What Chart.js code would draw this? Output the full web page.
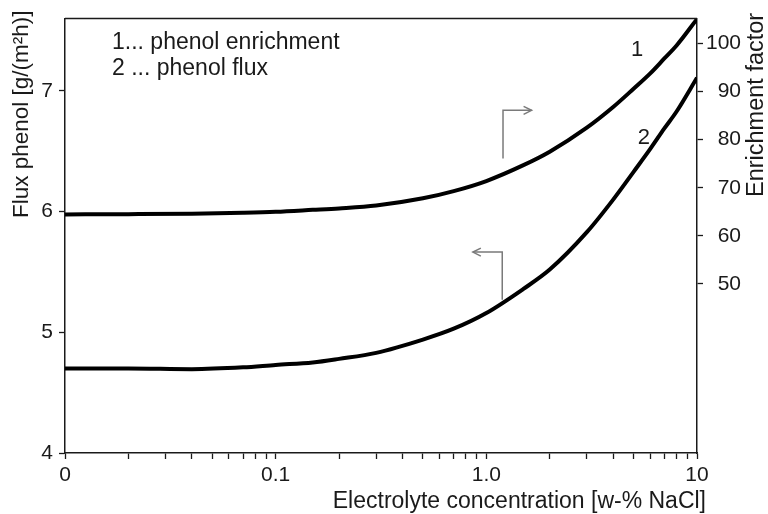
<!DOCTYPE html>
<html>
<head>
<meta charset="utf-8">
<script src="https://cdn.jsdelivr.net/npm/chart.js@4/dist/chart.umd.min.js"></script>
<style>
  html, body { margin: 0; padding: 0; background: #fff; }
  canvas { display: block; }
</style>
</head>
<body>
<canvas id="chart" width="768" height="514"></canvas>
<script>
// NaCl concentration in w-% (log axis, the left end is labelled "0")
const concValues = [0.01, 0.02, 0.04, 0.07, 0.1, 0.15, 0.2, 0.3, 0.5, 0.7, 1, 1.5, 2, 3, 4, 5, 6, 7, 8, 10];
// curve 1: phenol enrichment factor (right axis)
const enrichment = [64.45, 64.5, 64.6, 64.8, 65.0, 65.4, 65.7, 66.3, 67.8, 69.3, 71.4, 74.7, 77.5, 82.5, 86.8, 90.6, 93.8, 96.9, 99.6, 105.1];
// curve 2: phenol flux in g/(m2 h) (left axis)
const flux = [4.70, 4.70, 4.695, 4.71, 4.73, 4.75, 4.78, 4.83, 4.94, 5.03, 5.16, 5.36, 5.52, 5.83, 6.10, 6.33, 6.52, 6.69, 6.83, 7.11];

// tick positions and labels
const concTicks = [0.01, 0.02, 0.03, 0.04, 0.05, 0.06, 0.07, 0.08, 0.09,
                   0.1, 0.2, 0.3, 0.4, 0.5, 0.6, 0.7, 0.8, 0.9,
                   1, 2, 3, 4, 5, 6, 7, 8, 9, 10];
const concLabelValues = [0.01, 0.1, 1, 10];
const concLabels = ['0', '0.1', '1.0', '10'];
const fluxTicks = [4, 5, 6, 7];
const enrichTicks = [50, 60, 70, 80, 90, 100];

const FONT = '"Liberation Sans", Arial, Helvetica, sans-serif';
const INK = '#1a1a1a';

function toPoints(xs, ys) {
  return xs.map((x, i) => ({ x: x, y: ys[i] }));
}

// titles, curve numbers and the direction arrows
const decorations = {
  id: 'decorations',
  afterDraw(chart) {
    const ctx = chart.ctx;
    const area = chart.chartArea;
    const sx = chart.scales.x;
    const sy = chart.scales.yFlux;
    const px = (v) => sx.getPixelForValue(v);
    const py = (v) => sy.getPixelForValue(v);

    ctx.save();
    // frame top edge
    ctx.strokeStyle = INK;
    ctx.lineWidth = 1.5;
    ctx.beginPath();
    ctx.moveTo(area.left, area.top);
    ctx.lineTo(area.right, area.top);
    ctx.stroke();

    ctx.fillStyle = INK;
    ctx.font = '23px ' + FONT;
    ctx.textBaseline = 'alphabetic';
    ctx.textAlign = 'left';
    ctx.fillText('1... phenol enrichment', area.left + 47, 49);
    ctx.fillText('2 ... phenol flux', area.left + 47, 75);

    ctx.font = '22px ' + FONT;
    ctx.textAlign = 'center';
    ctx.textBaseline = 'middle';
    ctx.fillText('1', px(5.2), py(7.34));
    ctx.fillText('2', px(5.6), py(6.61));

    // axis titles
    ctx.font = '22.5px ' + FONT;
    ctx.save();
    ctx.translate(22, 218);
    ctx.rotate(-Math.PI / 2);
    ctx.textAlign = 'left';
    ctx.fillText('Flux phenol [g/(m²h)]', 0, 0);
    ctx.restore();

    // Chart.js turns right-hand titles the other way, so this one is drawn here
    ctx.font = '23.5px ' + FONT;
    ctx.save();
    ctx.translate(757, 197);
    ctx.rotate(-Math.PI / 2);
    ctx.textAlign = 'left';
    ctx.fillText('Enrichment factor', 0, 0);
    ctx.restore();

    ctx.font = '23px ' + FONT;
    ctx.textAlign = 'right';
    ctx.textBaseline = 'alphabetic';
    ctx.fillText('Electrolyte concentration [w-% NaCl]', 706, 508);

    // arrows pointing to the axis each curve belongs to
    ctx.strokeStyle = '#7a7a7a';
    ctx.lineWidth = 1.5;
    const arrow = (x0, y0, y1, x1) => {
      const ax = px(x0), ay0 = py(y0), ay1 = py(y1), bx = px(x1);
      const dir = bx > ax ? 1 : -1;
      ctx.beginPath();
      ctx.moveTo(ax, ay0);
      ctx.lineTo(ax, ay1);
      ctx.lineTo(bx, ay1);
      ctx.stroke();
      ctx.beginPath();
      ctx.moveTo(bx - dir * 8, ay1 - 4);
      ctx.lineTo(bx, ay1);
      ctx.lineTo(bx - dir * 8, ay1 + 4);
      ctx.stroke();
    };
    arrow(1.2, 6.44, 6.84, 1.64);
    arrow(1.19, 5.27, 5.665, 0.863);
    ctx.restore();
  }
};

new Chart(document.getElementById('chart'), {
  type: 'line',
  data: {
    datasets: [
      {
        label: 'phenol enrichment',
        data: toPoints(concValues, enrichment),
        yAxisID: 'yEnrich',
        borderColor: '#000',
        borderWidth: 4,
        pointRadius: 0,
        cubicInterpolationMode: 'monotone',
        fill: false,
      },
      {
        label: 'phenol flux',
        data: toPoints(concValues, flux),
        yAxisID: 'yFlux',
        borderColor: '#000',
        borderWidth: 4,
        pointRadius: 0,
        cubicInterpolationMode: 'monotone',
        fill: false,
      },
    ],
  },
  options: {
    responsive: false,
    animation: false,
    // right padding leaves room for the rotated right-hand title
    layout: { padding: { top: 18, left: 0, right: 27, bottom: 0 } },
    plugins: {
      legend: { display: false },
      tooltip: { enabled: false },
    },
    scales: {
      x: {
        type: 'logarithmic',
        min: 0.01,
        max: 10,
        afterBuildTicks: (scale) => { scale.ticks = concTicks.map((v) => ({ value: v })); },
        afterFit: (scale) => { scale.height = 61; },
        ticks: {
          autoSkip: false,
          maxRotation: 0,
          padding: 4,
          color: INK,
          font: { family: FONT, size: 21 },
          callback: (value) => {
            const i = concLabelValues.findIndex((v) => Math.abs(v - value) < v * 1e-6);
            return i >= 0 ? concLabels[i] : '';
          },
        },
        grid: { drawOnChartArea: false, drawTicks: true, tickLength: 6, tickColor: INK, tickWidth: 1.3 },
        border: { display: true, color: INK, width: 1.5 },
      },
      yFlux: {
        type: 'linear',
        position: 'left',
        min: 4,
        max: 7.6,
        afterBuildTicks: (scale) => { scale.ticks = fluxTicks.map((v) => ({ value: v })); },
        afterFit: (scale) => { scale.width = 65; },
        ticks: { padding: 6, color: INK, font: { family: FONT, size: 21 } },
        grid: { drawOnChartArea: false, drawTicks: true, tickLength: 6, tickColor: INK, tickWidth: 1.3 },
        border: { display: true, color: INK, width: 1.5 },
      },
      yEnrich: {
        type: 'linear',
        position: 'right',
        min: 14.8,
        max: 105.2,
        afterBuildTicks: (scale) => { scale.ticks = enrichTicks.map((v) => ({ value: v })); },
        afterFit: (scale) => { scale.width = 44; },
        ticks: { padding: 5, crossAlign: 'far', color: INK, font: { family: FONT, size: 21 } },
        grid: { drawOnChartArea: false, drawTicks: true, tickLength: 6, tickColor: INK, tickWidth: 1.3 },
        border: { display: true, color: INK, width: 1.5 },
      },
    },
  },
  plugins: [decorations],
});
</script>
</body>
</html>
